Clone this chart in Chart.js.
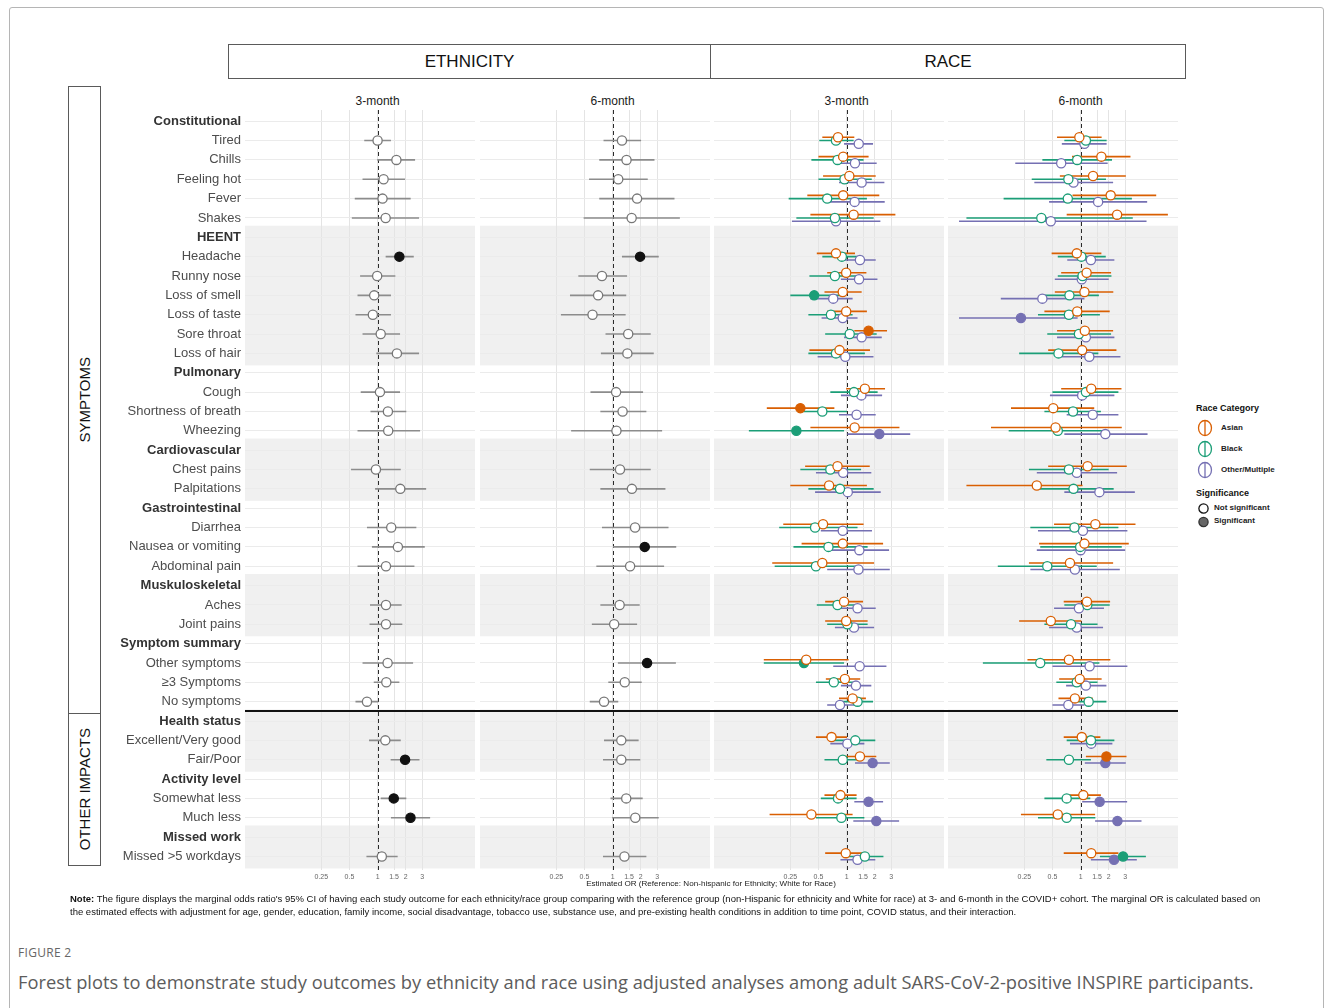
<!DOCTYPE html>
<html>
<head>
<meta charset="utf-8">
<script src="https://cdn.jsdelivr.net/npm/chart.js@4.4.1/dist/chart.umd.min.js"></script>
<style>
    html, body { margin: 0; padding: 0; background: #fff; }
    body { width: 1333px; height: 1008px; position: relative; overflow: hidden; font-family: "Liberation Sans", Arial, sans-serif; }
    .frame { position: absolute; left: 9px; top: 7px; width: 1313px; height: 1020px; border: 1px solid #b5b5b5; border-radius: 3px; }
    .box { position: absolute; box-sizing: border-box; border: 1px solid #5a5a5a; display: flex; align-items: center; justify-content: center; color: #111; }
    .vtext { writing-mode: vertical-rl; transform: rotate(180deg); font-size: 15px; }
    .abs { position: absolute; white-space: nowrap; }
    canvas { position: absolute; }
    .period { position: absolute; top: 94px; font-size: 12px; color: #1a1a1a; transform: translateX(-50%); white-space: nowrap; }
    .leg-title { font-size: 9px; font-weight: bold; color: #111; }
    .leg-item { font-size: 8px; font-weight: bold; color: #222; }
</style>
</head>
<body>
<div class="frame"></div>

<div class="box" style="left:228px;top:44px;width:483px;height:35px;font-size:17px;">ETHNICITY</div>
<div class="box" style="left:710px;top:44px;width:476px;height:35px;font-size:17px;">RACE</div>

<div class="box" style="left:68px;top:86px;width:33px;height:628px;"><span class="vtext">SYMPTOMS</span></div>
<div class="box" style="left:68px;top:713px;width:33px;height:153px;"><span class="vtext">OTHER IMPACTS</span></div>

<div class="period" id="h0"></div>
<div class="period" id="h1"></div>
<div class="period" id="h2"></div>
<div class="period" id="h3"></div>

<canvas id="p0" width="375" height="774" style="left:100px;top:110px;"></canvas>
<canvas id="p1" width="230" height="774" style="left:480px;top:110px;"></canvas>
<canvas id="p2" width="230" height="774" style="left:714px;top:110px;"></canvas>
<canvas id="p3" width="230" height="774" style="left:948px;top:110px;"></canvas>

<div id="divider" class="abs" style="left:245px;width:933px;height:2px;background:#111;top:711px;"></div>

<div class="abs" style="left:0;width:1422px;top:879px;text-align:center;font-size:8.1px;color:#222;">Estimated OR (Reference: Non-hispanic for Ethnicity; White for Race)</div>

<div class="abs" style="left:70px;top:892px;font-size:9.5px;line-height:13px;color:#111;">
<b>Note:</b> The figure displays the marginal odds ratio's 95% CI of having each study outcome for each ethnicity/race group comparing with the reference group (non-Hispanic for ethnicity and White for race) at 3- and 6-month in the COVID+ cohort. The marginal OR is calculated based on<br>
the estimated effects with adjustment for age, gender, education, family income, social disadvantage, tobacco use, substance use, and pre-existing health conditions in addition to time point, COVID status, and their interaction.
</div>

<div class="abs" style="left:18px;top:944px;font-family:'Open Sans',sans-serif;font-size:12px;color:#666;letter-spacing:0.3px;">FIGURE 2</div>
<div class="abs" style="left:18px;top:969px;font-family:'Open Sans',sans-serif;font-size:18.3px;color:#5c5c5c;">Forest plots to demonstrate study outcomes by ethnicity and race using adjusted analyses among adult SARS-CoV-2-positive INSPIRE participants.</div>

<!-- legend -->
<div class="abs leg-title" style="left:1196px;top:403px;">Race Category</div>
<svg class="abs" style="left:1196px;top:418px;" width="20" height="62">
    <ellipse cx="9" cy="10" rx="6.5" ry="7.5" fill="#fff" stroke="#D95F02" stroke-width="1.3"/>
    <line x1="9" y1="2.5" x2="9" y2="17.5" stroke="#D95F02" stroke-width="1.3"/>
    <ellipse cx="9" cy="31" rx="6.5" ry="7.5" fill="#fff" stroke="#1B9E77" stroke-width="1.3"/>
    <line x1="9" y1="23.5" x2="9" y2="38.5" stroke="#1B9E77" stroke-width="1.3"/>
    <ellipse cx="9" cy="52" rx="6.5" ry="7.5" fill="#fff" stroke="#7570B3" stroke-width="1.3"/>
    <line x1="9" y1="44.5" x2="9" y2="59.5" stroke="#7570B3" stroke-width="1.3"/>
</svg>
<div class="abs leg-item" style="left:1221px;top:423px;">Asian</div>
<div class="abs leg-item" style="left:1221px;top:444px;">Black</div>
<div class="abs leg-item" style="left:1221px;top:465px;">Other/Multiple</div>
<div class="abs leg-title" style="left:1196px;top:488px;">Significance</div>
<svg class="abs" style="left:1196px;top:501px;" width="16" height="28">
    <circle cx="7.5" cy="7.5" r="4.6" fill="#fff" stroke="#111" stroke-width="1.3"/>
    <circle cx="7.5" cy="21" r="4.6" fill="#666" stroke="#333" stroke-width="1.3"/>
</svg>
<div class="abs leg-item" style="left:1214px;top:503px;">Not significant</div>
<div class="abs leg-item" style="left:1214px;top:516px;">Significant</div>

<script>
const ROWS = [
    'Constitutional', 'Tired', 'Chills', 'Feeling hot', 'Fever', 'Shakes',
    'HEENT', 'Headache', 'Runny nose', 'Loss of smell', 'Loss of taste', 'Sore throat', 'Loss of hair',
    'Pulmonary', 'Cough', 'Shortness of breath', 'Wheezing',
    'Cardiovascular', 'Chest pains', 'Palpitations',
    'Gastrointestinal', 'Diarrhea', 'Nausea or vomiting', 'Abdominal pain',
    'Muskuloskeletal', 'Aches', 'Joint pains',
    'Symptom summary', 'Other symptoms', '≥3 Symptoms', 'No symptoms',
    'Health status', 'Excellent/Very good', 'Fair/Poor',
    'Activity level', 'Somewhat less', 'Much less',
    'Missed work', 'Missed >5 workdays'
];
const HEADERS = ['Constitutional', 'HEENT', 'Pulmonary', 'Cardiovascular', 'Gastrointestinal',
    'Muskuloskeletal', 'Symptom summary', 'Health status', 'Activity level', 'Missed work'];
const SHADED = [['HEENT', 'Loss of hair'], ['Cardiovascular', 'Palpitations'], ['Muskuloskeletal', 'Joint pains'],
    ['Health status', 'Fair/Poor'], ['Missed work', 'Missed >5 workdays']];
const OR_TICKS = [0.25, 0.5, 1, 1.5, 2, 3];
const PERIODS = ['3-month', '6-month', '3-month', '6-month'];

// Ethnicity (Hispanic vs non-Hispanic), one value per outcome row
const ETH_3M_EST = [1.00, 1.59, 1.16, 1.13, 1.22, 1.71, 0.99, 0.92, 0.89, 1.08, 1.61, 1.06, 1.29, 1.30, 0.96, 1.75, 1.40, 1.65, 1.23, 1.23, 1.23, 1.28, 1.24, 0.77, 1.21, 1.97, 1.49, 2.25, 1.11];
const ETH_3M_LO = [0.72, 0.99, 0.69, 0.57, 0.53, 1.22, 0.65, 0.61, 0.58, 0.69, 0.97, 0.66, 0.84, 0.61, 0.52, 0.94, 0.77, 0.87, 0.61, 0.83, 0.82, 0.69, 0.91, 0.58, 0.81, 1.38, 1.08, 1.39, 0.76];
const ETH_3M_HI = [1.39, 2.52, 1.97, 2.26, 2.78, 2.44, 1.55, 1.39, 1.39, 1.74, 2.78, 1.74, 2.03, 2.85, 1.77, 3.31, 2.60, 3.20, 2.48, 1.81, 1.84, 2.40, 1.71, 1.02, 1.77, 2.81, 2.03, 3.65, 1.64];
const ETH_3M_SIG = [0, 0, 0, 0, 0, 1, 0, 0, 0, 0, 0, 0, 0, 0, 0, 0, 0, 0, 0, 0, 0, 0, 0, 0, 0, 1, 1, 1, 0];

const ETH_6M_EST = [1.26, 1.41, 1.15, 1.83, 1.60, 1.97, 0.77, 0.70, 0.61, 1.47, 1.44, 1.09, 1.28, 1.10, 1.20, 1.61, 1.74, 2.21, 1.54, 1.19, 1.04, 2.34, 1.35, 0.81, 1.24, 1.24, 1.40, 1.75, 1.34];
const ETH_6M_LO = [0.80, 0.72, 0.56, 0.72, 0.49, 1.26, 0.43, 0.35, 0.28, 0.84, 0.75, 0.58, 0.74, 0.36, 0.57, 0.74, 0.77, 1.01, 0.67, 0.74, 0.60, 1.14, 0.90, 0.57, 0.81, 0.79, 0.95, 0.99, 0.79];
const ETH_6M_HI = [2.02, 2.81, 2.38, 4.60, 5.25, 3.12, 1.43, 1.40, 1.38, 2.56, 2.76, 2.12, 2.30, 3.39, 2.56, 3.68, 3.97, 4.80, 3.56, 1.95, 1.83, 4.76, 2.05, 1.15, 1.90, 1.98, 2.10, 3.12, 2.30];
const ETH_6M_SIG = [0, 0, 0, 0, 0, 1, 0, 0, 0, 0, 0, 0, 0, 0, 0, 0, 0, 1, 0, 0, 0, 1, 0, 0, 0, 0, 0, 0, 0];

// Race vs White, 3-month
const ASIAN_3M_EST = [0.81, 0.92, 1.07, 0.92, 1.19, 0.77, 0.99, 0.91, 0.99, 1.72, 0.84, 1.57, 0.32, 1.22, 0.80, 0.65, 0.56, 0.91, 0.55, 0.94, 0.99, 0.37, 0.96, 1.16, 0.69, 1.39, 0.86, 0.42, 0.98];
const ASIAN_3M_LO = [0.55, 0.50, 0.56, 0.38, 0.41, 0.48, 0.62, 0.58, 0.62, 1.21, 0.40, 0.99, 0.14, 0.41, 0.36, 0.25, 0.21, 0.33, 0.16, 0.59, 0.59, 0.13, 0.60, 0.83, 0.47, 0.94, 0.58, 0.15, 0.59];
const ASIAN_3M_HI = [1.21, 1.72, 2.05, 2.24, 3.33, 1.23, 1.63, 1.45, 1.65, 2.71, 1.78, 2.58, 0.74, 3.68, 1.77, 1.65, 1.52, 2.46, 1.97, 1.50, 1.68, 1.05, 1.40, 1.61, 1.01, 2.08, 1.28, 1.16, 1.61];
const ASIAN_3M_SIG = [0, 0, 0, 0, 0, 0, 0, 0, 0, 1, 0, 0, 1, 0, 0, 0, 0, 0, 0, 0, 0, 0, 0, 0, 0, 0, 0, 0, 0];

const BLACK_3M_EST = [0.77, 0.80, 0.95, 0.62, 0.75, 0.89, 0.75, 0.45, 0.68, 1.08, 0.77, 1.20, 0.55, 0.29, 0.67, 0.85, 0.46, 0.64, 0.47, 0.80, 1.02, 0.35, 0.73, 1.31, 1.24, 0.91, 0.81, 0.88, 1.57];
const BLACK_3M_LO = [0.51, 0.42, 0.50, 0.24, 0.29, 0.55, 0.40, 0.25, 0.39, 0.59, 0.39, 0.67, 0.30, 0.09, 0.32, 0.39, 0.19, 0.27, 0.17, 0.48, 0.62, 0.13, 0.47, 0.87, 0.72, 0.58, 0.53, 0.47, 0.94];
const BLACK_3M_HI = [1.19, 1.52, 1.86, 1.65, 1.95, 1.49, 1.31, 0.94, 1.16, 2.10, 1.57, 2.15, 1.01, 0.94, 1.43, 1.95, 1.31, 1.68, 1.31, 1.31, 1.68, 0.94, 1.21, 1.92, 2.03, 1.31, 1.28, 1.55, 2.48];
const BLACK_3M_SIG = [0, 0, 0, 0, 0, 0, 0, 1, 0, 0, 0, 0, 0, 1, 0, 0, 0, 0, 0, 0, 0, 1, 0, 0, 0, 0, 0, 0, 0];

const OTHER_3M_EST = [1.35, 1.23, 1.45, 1.22, 0.77, 1.39, 1.36, 0.72, 0.91, 1.45, 0.97, 1.44, 1.28, 2.24, 0.92, 1.03, 0.91, 1.37, 1.34, 1.31, 1.20, 1.38, 1.26, 0.85, 1.02, 1.90, 1.72, 2.08, 1.31];
const OTHER_3M_LO = [0.94, 0.80, 0.83, 0.62, 0.26, 0.91, 0.87, 0.41, 0.54, 0.94, 0.49, 0.87, 0.83, 1.02, 0.47, 0.46, 0.53, 0.68, 0.62, 0.87, 0.75, 0.72, 0.87, 0.62, 0.67, 1.23, 1.21, 1.18, 0.86];
const OTHER_3M_HI = [1.92, 2.10, 2.54, 2.56, 2.30, 2.05, 2.14, 1.16, 1.31, 2.38, 1.94, 2.40, 2.05, 4.80, 1.84, 2.32, 1.87, 2.85, 2.90, 2.05, 1.97, 2.67, 1.84, 1.21, 1.55, 2.90, 2.46, 3.65, 2.03];
const OTHER_3M_SIG = [0, 0, 0, 0, 0, 0, 0, 0, 0, 0, 0, 0, 0, 1, 0, 0, 0, 0, 0, 0, 0, 0, 0, 0, 0, 1, 1, 1, 0];

// Race vs White, 6-month
const ASIAN_6M_EST = [0.97, 1.67, 1.36, 2.10, 2.46, 0.91, 1.16, 1.10, 0.92, 1.11, 1.04, 1.30, 0.51, 0.54, 1.19, 0.34, 1.44, 1.10, 0.77, 1.17, 0.48, 0.75, 0.98, 0.87, 1.03, 1.89, 1.07, 0.57, 1.30];
const ASIAN_6M_LO = [0.56, 0.81, 0.60, 0.82, 0.71, 0.49, 0.62, 0.53, 0.41, 0.56, 0.45, 0.62, 0.18, 0.11, 0.45, 0.06, 0.52, 0.36, 0.28, 0.66, 0.22, 0.27, 0.59, 0.58, 0.66, 1.14, 0.70, 0.23, 0.66];
const ASIAN_6M_HI = [1.68, 3.42, 3.05, 6.45, 8.60, 1.67, 2.12, 2.24, 2.05, 2.23, 2.42, 2.74, 1.40, 2.76, 3.12, 1.05, 3.87, 3.28, 2.23, 2.07, 1.02, 2.08, 1.68, 1.35, 1.63, 3.10, 1.65, 1.43, 2.54];
const ASIAN_6M_SIG = [0, 0, 0, 0, 0, 0, 0, 0, 0, 0, 0, 0, 0, 0, 0, 0, 0, 0, 0, 0, 0, 0, 0, 0, 0, 1, 0, 0, 0];

const BLACK_6M_EST = [1.14, 0.92, 0.74, 0.73, 0.38, 1.02, 1.05, 0.76, 0.75, 0.96, 0.58, 1.14, 0.83, 0.57, 0.75, 0.84, 0.86, 0.99, 0.44, 1.18, 0.79, 0.37, 0.91, 1.22, 1.29, 0.75, 0.71, 0.71, 2.85];
const BLACK_6M_LO = [0.67, 0.39, 0.30, 0.15, 0.06, 0.57, 0.57, 0.37, 0.35, 0.44, 0.22, 0.50, 0.41, 0.17, 0.28, 0.34, 0.29, 0.37, 0.13, 0.67, 0.41, 0.09, 0.55, 0.76, 0.71, 0.43, 0.41, 0.35, 1.61];
const BLACK_6M_HI = [1.90, 2.17, 1.87, 3.54, 3.62, 1.86, 2.14, 1.57, 1.61, 2.12, 1.55, 2.54, 1.65, 1.95, 2.00, 2.26, 2.54, 2.76, 1.49, 2.05, 1.52, 1.59, 1.52, 1.89, 2.30, 1.29, 1.27, 1.44, 5.00];
const BLACK_6M_SIG = [0, 0, 0, 0, 0, 0, 0, 0, 0, 0, 0, 0, 0, 0, 0, 0, 0, 0, 0, 0, 0, 0, 0, 0, 0, 0, 0, 0, 1];

const OTHER_6M_EST = [1.10, 0.62, 0.84, 1.54, 0.48, 1.29, 1.03, 0.39, 0.23, 1.14, 1.24, 1.04, 1.35, 1.84, 0.91, 1.59, 1.06, 1.00, 0.87, 0.96, 0.91, 1.25, 1.14, 0.74, 1.30, 1.84, 1.60, 2.48, 2.28];
const OTHER_6M_LO = [0.63, 0.20, 0.32, 0.46, 0.05, 0.72, 0.53, 0.14, 0.05, 0.56, 0.61, 0.47, 0.71, 0.67, 0.34, 0.67, 0.35, 0.34, 0.29, 0.52, 0.46, 0.50, 0.70, 0.50, 0.77, 1.11, 1.04, 1.43, 1.29];
const OTHER_6M_HI = [1.90, 1.95, 2.23, 5.16, 5.08, 2.30, 2.00, 1.10, 0.93, 2.30, 2.67, 2.30, 2.54, 5.21, 2.46, 3.81, 3.17, 3.00, 2.63, 1.78, 1.74, 3.17, 1.89, 1.10, 2.19, 3.05, 3.15, 4.49, 4.00];
const OTHER_6M_SIG = [0, 0, 0, 0, 0, 0, 0, 0, 1, 0, 0, 0, 0, 0, 0, 0, 0, 0, 0, 0, 0, 0, 0, 0, 0, 1, 1, 1, 1];

const FONT = '"Liberation Sans", Arial, sans-serif';
const ASIAN = '#D95F02';
const BLACK = '#1B9E77';
const OTHER = '#7570B3';
const DODGE = 0.17;

const OUTCOMES = ROWS.filter((r) => !HEADERS.includes(r));
const rowOf = OUTCOMES.map((name) => ROWS.indexOf(name) + 1);
const isHeaderTick = (c) => !!(c && c.tick && HEADERS.includes(ROWS[c.tick.value - 1]));

const barData = (lo, hi, dy) => {
    const pts = [];
    lo.forEach((l, i) => {
        const y = rowOf[i] + dy;
        pts.push({ x: l, y }, { x: hi[i], y }, { x: null, y: null });
    });
    return pts;
};

const ethSeries = (est, lo, hi, sig) => ({
    est, lo, hi, sig, dy: 0, bar: '#8c8c8c', ring: '#777777', fill: '#111111', order: 1
});
const raceSeries = (est, lo, hi, sig, color, dy, order) => ({
    est, lo, hi, sig, dy, bar: color, ring: color, fill: color, order
});

const PANELS = [
    [ethSeries(ETH_3M_EST, ETH_3M_LO, ETH_3M_HI, ETH_3M_SIG)],
    [ethSeries(ETH_6M_EST, ETH_6M_LO, ETH_6M_HI, ETH_6M_SIG)],
    [
        raceSeries(BLACK_3M_EST, BLACK_3M_LO, BLACK_3M_HI, BLACK_3M_SIG, BLACK, 0, 2),
        raceSeries(OTHER_3M_EST, OTHER_3M_LO, OTHER_3M_HI, OTHER_3M_SIG, OTHER, DODGE, 3),
        raceSeries(ASIAN_3M_EST, ASIAN_3M_LO, ASIAN_3M_HI, ASIAN_3M_SIG, ASIAN, -DODGE, 1)
    ],
    [
        raceSeries(BLACK_6M_EST, BLACK_6M_LO, BLACK_6M_HI, BLACK_6M_SIG, BLACK, 0, 2),
        raceSeries(OTHER_6M_EST, OTHER_6M_LO, OTHER_6M_HI, OTHER_6M_SIG, OTHER, DODGE, 3),
        raceSeries(ASIAN_6M_EST, ASIAN_6M_LO, ASIAN_6M_HI, ASIAN_6M_SIG, ASIAN, -DODGE, 1)
    ]
];

// shaded row groups, drawn under the grid
const bandPlugin = {
    id: 'bands',
    beforeDraw(chart) {
        const { ctx, chartArea, scales } = chart;
        ctx.save();
        ctx.fillStyle = '#f0f0f0';
        SHADED.forEach(([first, last]) => {
            const y1 = scales.y.getPixelForValue(ROWS.indexOf(first) + 1 - 0.6);
            const y2 = Math.min(scales.y.getPixelForValue(ROWS.indexOf(last) + 1 + 0.62), chartArea.bottom);
            ctx.fillRect(chartArea.left, y1, chartArea.right - chartArea.left, y2 - y1);
        });
        ctx.restore();
    }
};

// reference line at OR = 1
const refLinePlugin = {
    id: 'refLine',
    beforeDatasetsDraw(chart) {
        const { ctx, chartArea, scales } = chart;
        const x = Math.round(scales.x.getPixelForValue(1)) + 0.5;
        ctx.save();
        ctx.strokeStyle = '#2b2b2b';
        ctx.lineWidth = 1;
        ctx.setLineDash([4, 3]);
        ctx.beginPath();
        ctx.moveTo(x, chartArea.top);
        ctx.lineTo(x, chartArea.bottom);
        ctx.stroke();
        ctx.restore();
    }
};

const makePanel = (idx) => {
    const series = PANELS[idx];
    const showLabels = idx === 0;
    const datasets = [];
    series.forEach((s) => {
        datasets.push({
            type: 'line',
            data: barData(s.lo, s.hi, s.dy),
            borderColor: s.bar,
            borderWidth: 1.6,
            pointRadius: 0,
            spanGaps: false,
            fill: false,
            order: 10
        });
    });
    series.forEach((s) => {
        datasets.push({
            type: 'line',
            showLine: false,
            data: s.est.map((v, i) => ({ x: v, y: rowOf[i] + s.dy })),
            pointRadius: 4.6,
            pointBorderWidth: 1.3,
            pointBorderColor: s.sig.map((f) => (f ? s.fill : s.ring)),
            pointBackgroundColor: s.sig.map((f) => (f ? s.fill : '#ffffff')),
            order: s.order
        });
    });

    return new Chart(document.getElementById('p' + idx), {
        type: 'line',
        data: { datasets },
        plugins: [bandPlugin, refLinePlugin],
        options: {
            responsive: false,
            animation: false,
            events: [],
            layout: { padding: 0, autoPadding: false },
            plugins: { legend: { display: false }, tooltip: { enabled: false } },
            scales: {
                x: {
                    type: 'logarithmic',
                    bounds: 'data',
                    min: Math.pow(2, -4.714),
                    max: Math.pow(2, 3.464),
                    afterBuildTicks: (s) => { s.ticks = OR_TICKS.map((v) => ({ value: v })); },
                    afterFit: (s) => {
                        s.height = 14;
                        s.paddingLeft = 0;
                        s.paddingRight = 0;
                    },
                    grid: { color: '#e4e4e4', lineWidth: 1, drawTicks: false },
                    border: { display: false },
                    ticks: {
                        callback: (v) => String(v),
                        autoSkip: false,
                        maxRotation: 0,
                        padding: 3,
                        color: '#666',
                        font: { family: FONT, size: 7 }
                    }
                },
                y: {
                    type: 'linear',
                    bounds: 'data',
                    reverse: true,
                    min: 0.42,
                    max: 39.7,
                    afterBuildTicks: (s) => { s.ticks = ROWS.map((_, i) => ({ value: i + 1 })); },
                    afterFit: (s) => {
                        s.width = showLabels ? 145 : 0;
                        s.paddingTop = 0;
                        s.paddingBottom = 0;
                    },
                    grid: { color: '#ebebeb', lineWidth: 1, drawTicks: false },
                    border: { display: false },
                    ticks: {
                        display: showLabels,
                        autoSkip: false,
                        padding: 4,
                        callback: (v) => ROWS[v - 1],
                        color: (c) => (isHeaderTick(c) ? '#333' : '#4d4d4d'),
                        font: (c) => ({
                            family: FONT,
                            size: 13,
                            weight: isHeaderTick(c) ? 'bold' : 'normal'
                        })
                    }
                }
            }
        }
    });
};

const charts = PANELS.map((_, i) => makePanel(i));

charts.forEach((chart, i) => {
    const canvasLeft = parseFloat(chart.canvas.style.left);
    const head = document.getElementById('h' + i);
    head.textContent = PERIODS[i];
    head.style.left = (canvasLeft + chart.scales.x.getPixelForValue(1)) + 'px';
});

// separator between symptoms and other impacts
const firstChart = charts[0];
const panelTop = parseFloat(firstChart.canvas.style.top);
document.getElementById('divider').style.top =
    (panelTop + firstChart.scales.y.getPixelForValue(ROWS.indexOf('No symptoms') + 1.5) - 1) + 'px';
</script>
</body>
</html>
